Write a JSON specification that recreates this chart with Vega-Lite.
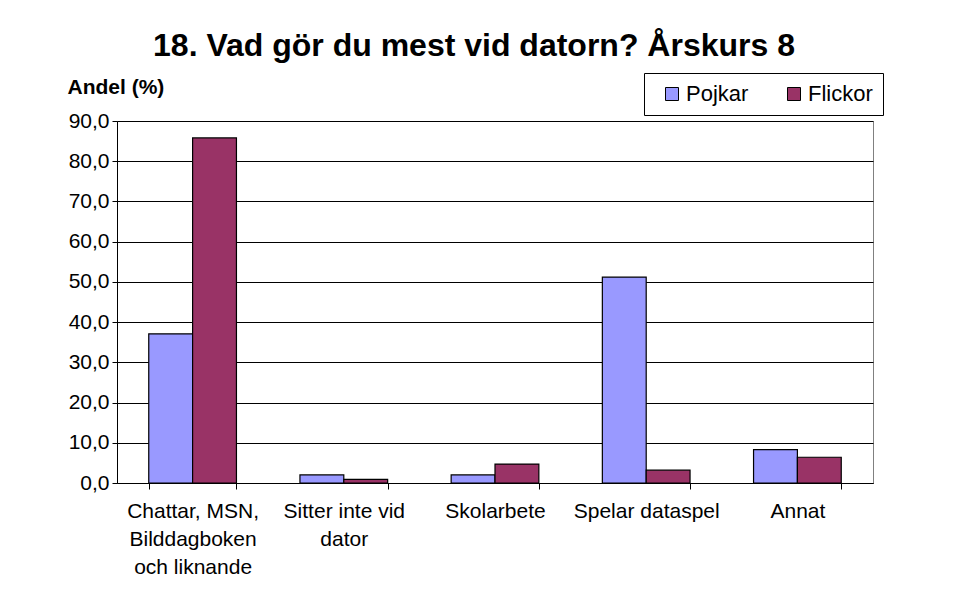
{
  "$schema": "https://vega.github.io/schema/vega-lite/v6.json",
  "width": 756,
  "height": 362,
  "autosize": {"type": "none"},
  "padding": {"left": 117, "top": 121, "right": 86, "bottom": 122},
  "background": "white",
  "title": {
    "text": "18. Vad gör du mest vid datorn? Årskurs 8",
    "font": "Liberation Sans",
    "fontSize": 32,
    "fontWeight": "bold",
    "color": "black",
    "anchor": "middle",
    "frame": "group",
    "dx": -21,
    "offset": 10
  },
  "data": {
    "values": [
      {"kategori": "Chattar, MSN, Bilddagboken och liknande", "kon": "Pojkar", "andel": 37.1},
      {"kategori": "Chattar, MSN, Bilddagboken och liknande", "kon": "Flickor", "andel": 85.8},
      {"kategori": "Sitter inte vid dator", "kon": "Pojkar", "andel": 2.0},
      {"kategori": "Sitter inte vid dator", "kon": "Flickor", "andel": 0.9},
      {"kategori": "Skolarbete", "kon": "Pojkar", "andel": 2.0},
      {"kategori": "Skolarbete", "kon": "Flickor", "andel": 4.7},
      {"kategori": "Spelar dataspel", "kon": "Pojkar", "andel": 51.2},
      {"kategori": "Spelar dataspel", "kon": "Flickor", "andel": 3.2},
      {"kategori": "Annat", "kon": "Pojkar", "andel": 8.3},
      {"kategori": "Annat", "kon": "Flickor", "andel": 6.4}
    ]
  },
  "mark": {"type": "bar", "stroke": "black", "strokeWidth": 1.2},
  "encoding": {
    "x": {
      "field": "kategori",
      "type": "nominal",
      "sort": null,
      "scale": {"paddingInner": 0.42, "paddingOuter": 0.21},
      "axis": {
        "title": null,
        "labelAngle": 0,
        "labelFont": "Liberation Sans",
        "labelFontSize": 21,
        "labelColor": "black",
        "labelLineHeight": 28,
        "labelPadding": 11,
        "labelLimit": 300,
        "tickBand": "extent",
        "tickSize": 6,
        "tickColor": "black",
        "domainColor": "black",
        "labelExpr": "datum.value == 'Chattar, MSN, Bilddagboken och liknande' ? ['Chattar, MSN,', 'Bilddagboken', 'och liknande'] : datum.value == 'Sitter inte vid dator' ? ['Sitter inte vid', 'dator'] : datum.value"
      }
    },
    "xOffset": {"field": "kon", "type": "nominal", "scale": {"domain": ["Pojkar", "Flickor"], "paddingInner": 0, "paddingOuter": 0}},
    "y": {
      "field": "andel",
      "type": "quantitative",
      "scale": {"domain": [0, 90], "nice": false},
      "axis": {
        "title": "Andel (%)",
        "titleAngle": 0,
        "titleAlign": "left",
        "titleBaseline": "middle",
        "titleX": -50,
        "titleY": -34,
        "titleFont": "Liberation Sans",
        "titleFontSize": 21,
        "titleFontWeight": "bold",
        "titleColor": "black",
        "values": [0, 10, 20, 30, 40, 50, 60, 70, 80, 90],
        "labelExpr": "replace(format(datum.value, '.1f'), '.', ',')",
        "labelFont": "Liberation Sans",
        "labelFontSize": 21,
        "labelColor": "black",
        "labelPadding": 3,
        "tickSize": 5,
        "tickColor": "black",
        "domainColor": "black",
        "grid": true,
        "gridColor": "black",
        "gridWidth": 1
      }
    },
    "color": {
      "field": "kon",
      "type": "nominal",
      "scale": {"domain": ["Pojkar", "Flickor"], "range": ["#9999FF", "#993366"]},
      "legend": {
        "title": null,
        "orient": "none",
        "legendX": 527,
        "legendY": -48,
        "direction": "horizontal",
        "symbolType": "square",
        "symbolSize": 169,
        "symbolStrokeColor": "black",
        "symbolStrokeWidth": 1,
        "symbolOpacity": 1,
        "symbolOffset": 7,
        "labelFont": "Liberation Sans",
        "labelFontSize": 22,
        "labelColor": "black",
        "labelOffset": 3,
        "columnPadding": 27,
        "padding": 10,
        "strokeColor": "black",
        "fillColor": "white"
      }
    }
  },
  "config": {
    "view": {"stroke": "#808080", "strokeWidth": 1}
  }
}
